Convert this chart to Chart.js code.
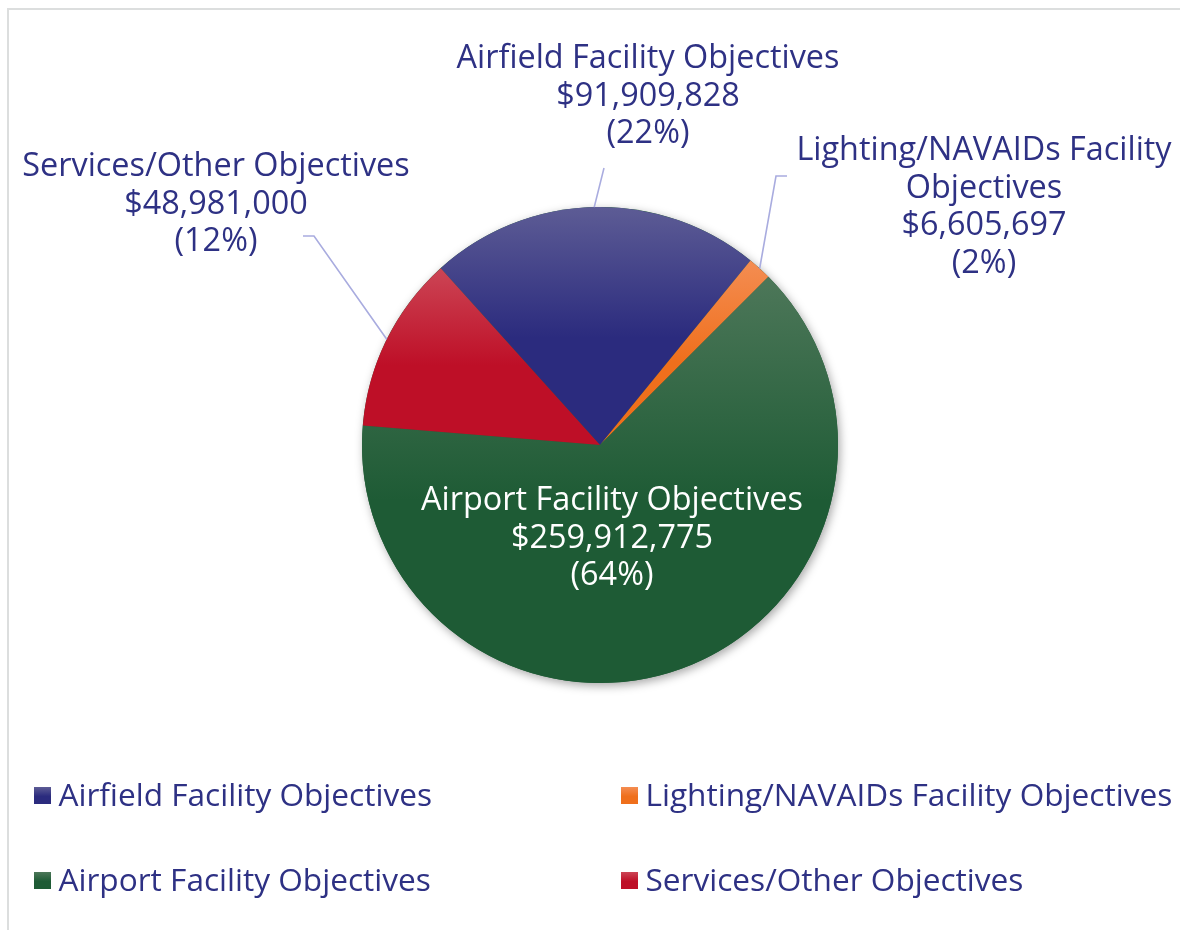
<!DOCTYPE html>
<html>
<head>
<meta charset="utf-8">
<script src="https://cdn.jsdelivr.net/npm/chart.js@4.4.1/dist/chart.umd.min.js"></script>
<style>
  body { margin: 0; background: #ffffff; overflow: hidden; }
  #frame { position: absolute; left: 7px; top: 8px; width: 1200px; height: 960px; border: 2px solid #dcdede; }
  #pieChart { position: absolute; left: 0; top: 0; }
</style>
</head>
<body>
<div id="frame"></div>
<canvas id="pieChart" width="1180" height="930"></canvas>
<script>
// Chart data
const categories = [
  "Airfield Facility Objectives",
  "Lighting/NAVAIDs Facility Objectives",
  "Airport Facility Objectives",
  "Services/Other Objectives",
];
const amounts = [91909828, 6605697, 259912775, 48981000];
const percentLabels = ["(22%)", "(2%)", "(64%)", "(12%)"];

// Slice colors (top of gradient -> bottom of gradient)
const sliceColors = [
  { light: "#5d5c95", dark: "#2b2b7e" },
  { light: "#f48d52", dark: "#ef6f1c" },
  { light: "#4d7759", dark: "#1e5b35" },
  { light: "#cc4555", dark: "#be0f27" },
];

const textColor = "#2e3184";
const leaderColor = "#a9acdf";
const fontFamily = '"Open Sans", "DejaVu Sans", sans-serif';

// Where the data labels sit (baseline of first line) and the bends of their leader lines
const labelLayout = [
  { x: 648, y: 68, wrap: false, color: textColor, leader: [[604, 168]] },
  { x: 984, y: 160, wrap: true, color: textColor, leader: [[787, 176], [776, 176]] },
  { x: 612, y: 510, wrap: false, color: "#ffffff", leader: null },
  { x: 216, y: 176, wrap: false, color: textColor, leader: [[303, 236], [314, 236]] },
];
const labelFontSize = 32.4;
const labelLineHeight = 37.5;

// Legend grid
const legendLayout = { cols: [34, 621], rows: [806, 891], box: 17, gap: 7.5, fontSize: 31.6 };

function formatMoney(v) {
  return "$" + v.toLocaleString("en-US");
}

// Vertical extent of one pie slice
function sliceBounds(arc) {
  const { x, y, startAngle, endAngle, outerRadius } = arc.getProps(["x", "y", "startAngle", "endAngle", "outerRadius"], true);
  let top = y, bottom = y;
  const check = (a) => {
    const py = y + Math.sin(a) * outerRadius;
    top = Math.min(top, py);
    bottom = Math.max(bottom, py);
  };
  check(startAngle);
  check(endAngle);
  for (let k = -4; k <= 4; k++) {
    const a = -Math.PI / 2 + k * Math.PI;
    if (a > startAngle && a < endAngle) check(a);
  }
  return { top, bottom };
}

function makeGradient(ctx, top, bottom, colors) {
  const g = ctx.createLinearGradient(0, top, 0, bottom);
  g.addColorStop(0, colors.light);
  g.addColorStop(0.55, colors.dark);
  g.addColorStop(1, colors.dark);
  return g;
}

const pieDecorations = {
  id: "pieDecorations",
  beforeDatasetsDraw(chart) {
    const ctx = chart.ctx;
    const arcs = chart.getDatasetMeta(0).data;
    if (!arcs.length) return;
    const { x, y, outerRadius } = arcs[0].getProps(["x", "y", "outerRadius"], true);

    // soft shadow under the pie
    ctx.save();
    ctx.shadowColor = "rgba(0, 0, 0, 0.35)";
    ctx.shadowBlur = 10;
    ctx.shadowOffsetX = 2;
    ctx.shadowOffsetY = 3;
    ctx.beginPath();
    ctx.arc(x, y, outerRadius, 0, Math.PI * 2);
    ctx.fillStyle = "#1e5b35";
    ctx.fill();
    ctx.restore();

    // per slice gradient fill
    arcs.forEach((arc, i) => {
      const b = sliceBounds(arc);
      arc.options.backgroundColor = makeGradient(ctx, b.top, b.bottom, sliceColors[i]);
    });
  },
  afterDatasetsDraw(chart) {
    const ctx = chart.ctx;
    const arcs = chart.getDatasetMeta(0).data;
    ctx.save();
    ctx.font = labelFontSize + "px " + fontFamily;
    ctx.textAlign = "center";
    ctx.textBaseline = "alphabetic";

    arcs.forEach((arc, i) => {
      const layout = labelLayout[i];
      const { x, y, startAngle, endAngle, outerRadius } = arc.getProps(["x", "y", "startAngle", "endAngle", "outerRadius"], true);
      const mid = (startAngle + endAngle) / 2;

      if (layout.leader) {
        ctx.beginPath();
        ctx.moveTo(layout.leader[0][0], layout.leader[0][1]);
        layout.leader.slice(1).forEach((p) => ctx.lineTo(p[0], p[1]));
        ctx.lineTo(x + Math.cos(mid) * outerRadius, y + Math.sin(mid) * outerRadius);
        ctx.strokeStyle = leaderColor;
        ctx.lineWidth = 1.6;
        ctx.stroke();
      }

      let lines = [categories[i]];
      if (layout.wrap) {
        const cut = categories[i].lastIndexOf(" ");
        lines = [categories[i].slice(0, cut), categories[i].slice(cut + 1)];
      }
      lines.push(formatMoney(amounts[i]), percentLabels[i]);

      ctx.fillStyle = layout.color;
      lines.forEach((line, k) => {
        ctx.fillText(line, layout.x, layout.y + k * labelLineHeight);
      });
    });
    ctx.restore();
  },
  afterDraw(chart) {
    // two column legend
    const ctx = chart.ctx;
    ctx.save();
    ctx.font = legendLayout.fontSize + "px " + fontFamily;
    ctx.textAlign = "left";
    ctx.textBaseline = "alphabetic";
    categories.forEach((name, i) => {
      const colX = legendLayout.cols[i % 2];
      const baseY = legendLayout.rows[Math.floor(i / 2)];
      const boxTop = baseY - 19;
      ctx.fillStyle = makeGradient(ctx, boxTop, boxTop + legendLayout.box, sliceColors[i]);
      ctx.fillRect(colX, boxTop, legendLayout.box, legendLayout.box);
      ctx.fillStyle = textColor;
      ctx.fillText(name, colX + legendLayout.box + legendLayout.gap, baseY);
    });
    ctx.restore();
  },
};

const ctx = document.getElementById("pieChart").getContext("2d");

new Chart(ctx, {
  type: "pie",
  data: {
    labels: categories,
    datasets: [{
      data: amounts,
      backgroundColor: (context) => sliceColors[context.dataIndex].dark,
      borderWidth: 0,
      hoverOffset: 0,
      offset: 0,
    }],
  },
  options: {
    responsive: false,
    animation: false,
    rotation: -42,
    layout: {
      padding: { left: 362, right: 342, top: 207, bottom: 247 },
    },
    plugins: {
      legend: { display: false },
      tooltip: { enabled: false },
      title: { display: false },
    },
  },
  plugins: [pieDecorations],
});
</script>
</body>
</html>
